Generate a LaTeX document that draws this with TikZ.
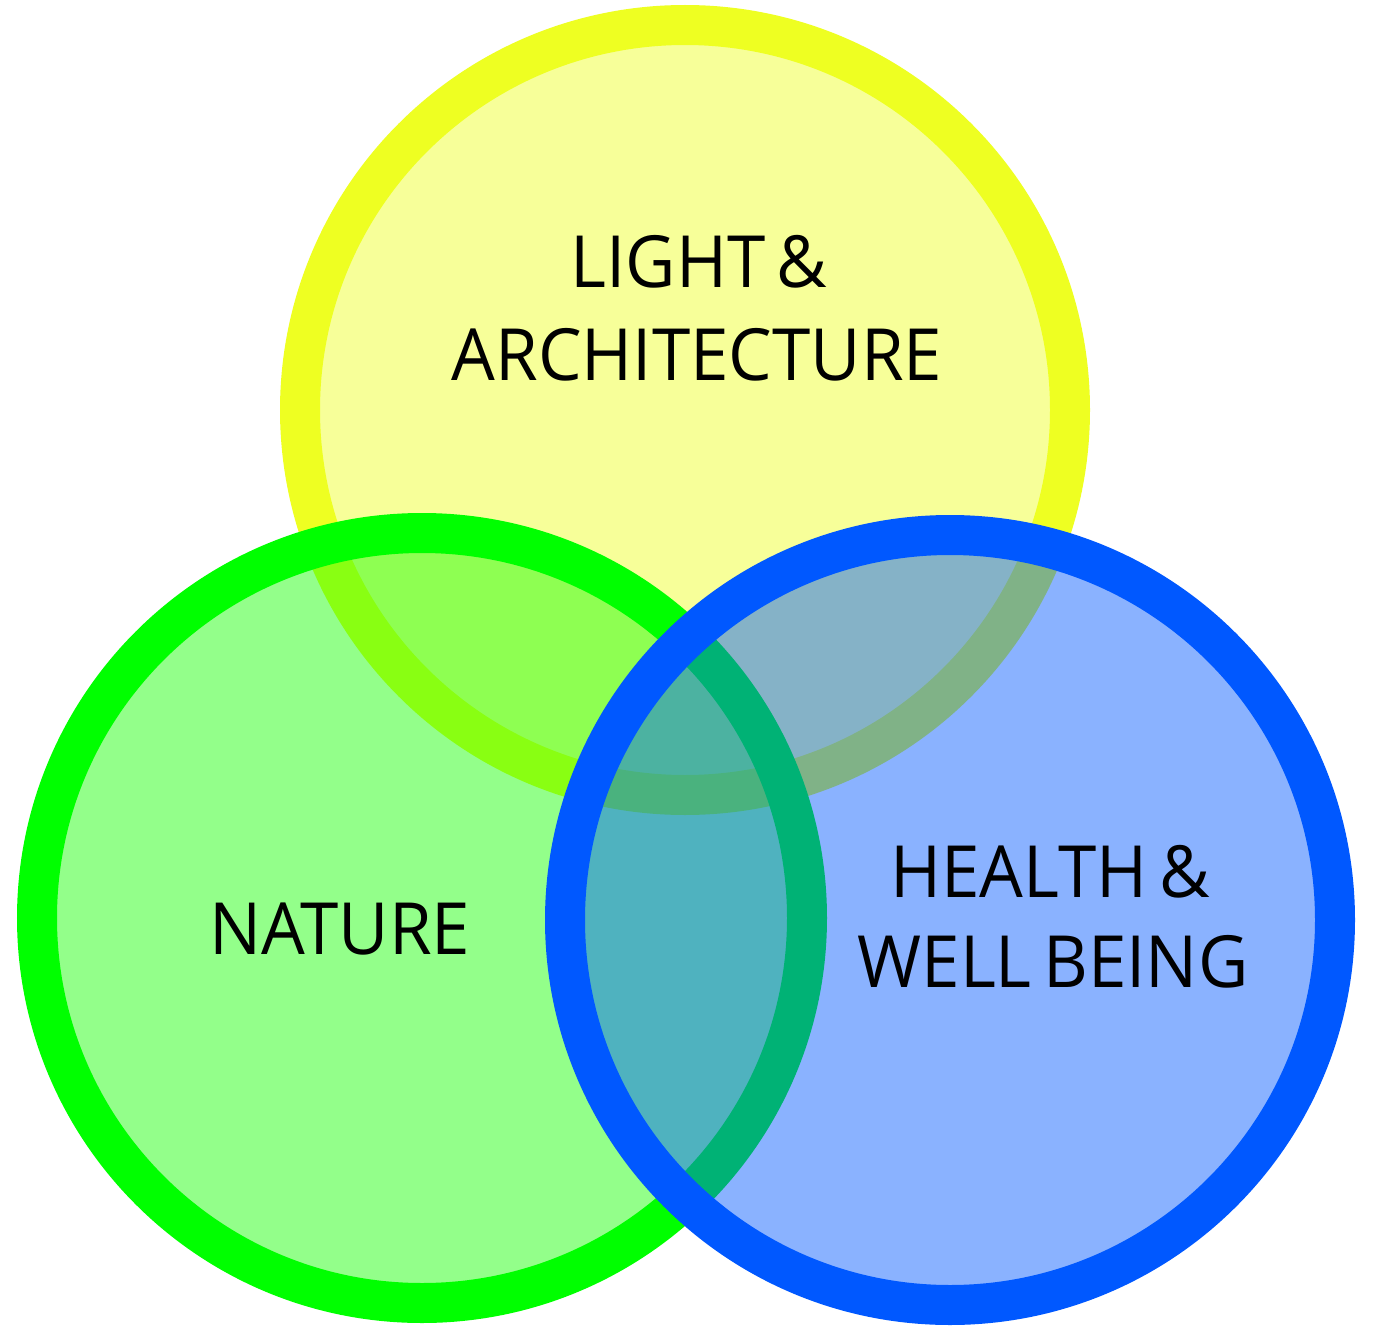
\documentclass[tikz,border=0pt]{standalone}
\usepackage{fontspec}
\setmainfont{Open Sans}[FakeStretch=0.96, WordSpace=0.65]
\definecolor{ringY}{HTML}{EEFF22}
\definecolor{ringG}{HTML}{00FF00}
\definecolor{fillG}{HTML}{14FF00}
\definecolor{ringB}{HTML}{0058FF}
\begin{document}
\begin{tikzpicture}[x=1pt,y=-1pt,
  ring/.style={line width=40pt, fill opacity=0.46, draw opacity=1},
  label/.style={anchor=base, inner sep=0pt, text=black, font=\fontsize{72}{92}\selectfont}]
\useasboundingbox (0,0) rectangle (1374,1335);
\fill[white] (0,0) rectangle (1374,1335);
% circles (fills translucent, rings opaque), bottom to top
\draw[ring, draw=ringY, fill=ringY] (685,410) circle (385);
\draw[ring, draw=ringG, fill=fillG] (422,918) circle (385);
\draw[ring, draw=ringB, fill=ringB] (950,920) circle (385);
% labels
\node[label] (la1) at (699,287) {LIGHT \&};
\node[label] (la2) at (697,380) {ARCHITECTURE};
\node[label] (na) at (340,954) {NATURE};
\node[label] (hw1) at (1050,897) {HEALTH \&};
\node[label] (hw2) at (1053,987) {WELL BEING};
\end{tikzpicture}
\end{document}
